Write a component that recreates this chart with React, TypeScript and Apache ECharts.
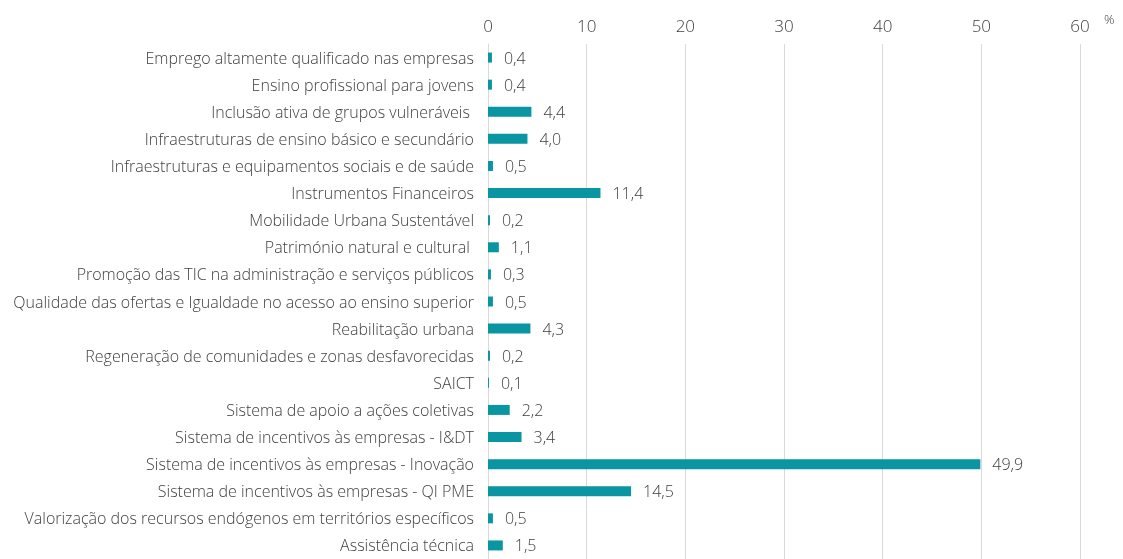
import React, { useEffect, useRef } from "react";
import * as echarts from "echarts";

const categories = [
  "Emprego altamente qualificado nas empresas",
  "Ensino profissional para jovens",
  "Inclusão ativa de grupos vulneráveis ",
  "Infraestruturas de ensino básico e secundário",
  "Infraestruturas e equipamentos sociais e de saúde",
  "Instrumentos Financeiros",
  "Mobilidade Urbana Sustentável",
  "Património natural e cultural ",
  "Promoção das TIC na administração e serviços públicos",
  "Qualidade das ofertas e Igualdade no acesso ao ensino superior",
  "Reabilitação urbana",
  "Regeneração de comunidades e zonas desfavorecidas",
  "SAICT",
  "Sistema de apoio a ações coletivas",
  "Sistema de incentivos às empresas - I&DT",
  "Sistema de incentivos às empresas - Inovação",
  "Sistema de incentivos às empresas - QI PME",
  "Valorização dos recursos endógenos em territórios específicos",
  "Assistência técnica",
];

const values = [0.4, 0.4, 4.4, 4.0, 0.5, 11.4, 0.2, 1.1, 0.3, 0.5, 4.3, 0.2, 0.1, 2.2, 3.4, 49.9, 14.5, 0.5, 1.5];

const xTicks = { min: 0, max: 60, interval: 10 };
const unitLabel = "%";

const FONT = "'Open Sans', 'Noto Sans', sans-serif";
const TEXT = "#404040";
const BAR = "#0996a2";

export default function App() {
  const ref = useRef<HTMLDivElement>(null);
  useEffect(() => {
    if (!ref.current) return;
    const chart = echarts.init(ref.current, undefined, { renderer: "svg" });
    chart.setOption({
      animation: false,
      textStyle: { fontFamily: FONT, fontWeight: 300 },
      grid: { left: 488, right: 43, top: 44, height: 518, containLabel: false },
      xAxis: {
        type: "value",
        position: "top",
        min: xTicks.min,
        max: xTicks.max,
        interval: xTicks.interval,
        axisLine: { show: false },
        axisTick: { show: false },
        splitLine: { show: true, lineStyle: { color: "#d9d9d9", width: 1 } },
        axisLabel: { color: TEXT, fontSize: 17, fontFamily: FONT, fontWeight: 300, margin: 10 },
      },
      yAxis: {
        type: "category",
        inverse: true,
        data: categories,
        axisLine: { show: true, lineStyle: { color: "#d9d9d9" } },
        axisTick: { show: false },
        axisLabel: { color: TEXT, fontSize: 16, fontFamily: FONT, fontWeight: 300, margin: 14 },
      },
      graphic: [
        {
          type: "text",
          left: 1104,
          top: 12,
          style: { text: unitLabel, fill: TEXT, fontSize: 13, fontFamily: FONT, fontWeight: 300 },
        },
      ],
      series: [
        {
          type: "bar",
          data: values,
          barWidth: 10,
          itemStyle: { color: BAR },
          label: {
            show: true,
            position: "right",
            distance: 12,
            color: TEXT,
            fontSize: 16,
            fontFamily: FONT,
            fontWeight: 300,
            formatter: (p: any) => p.value.toFixed(1).replace(".", ","),
          },
        },
      ],
    });
    return () => chart.dispose();
  }, []);
  return <div ref={ref} style={{ position: "fixed", left: 0, top: 0, width: 1123, height: 559 }} />;
}
